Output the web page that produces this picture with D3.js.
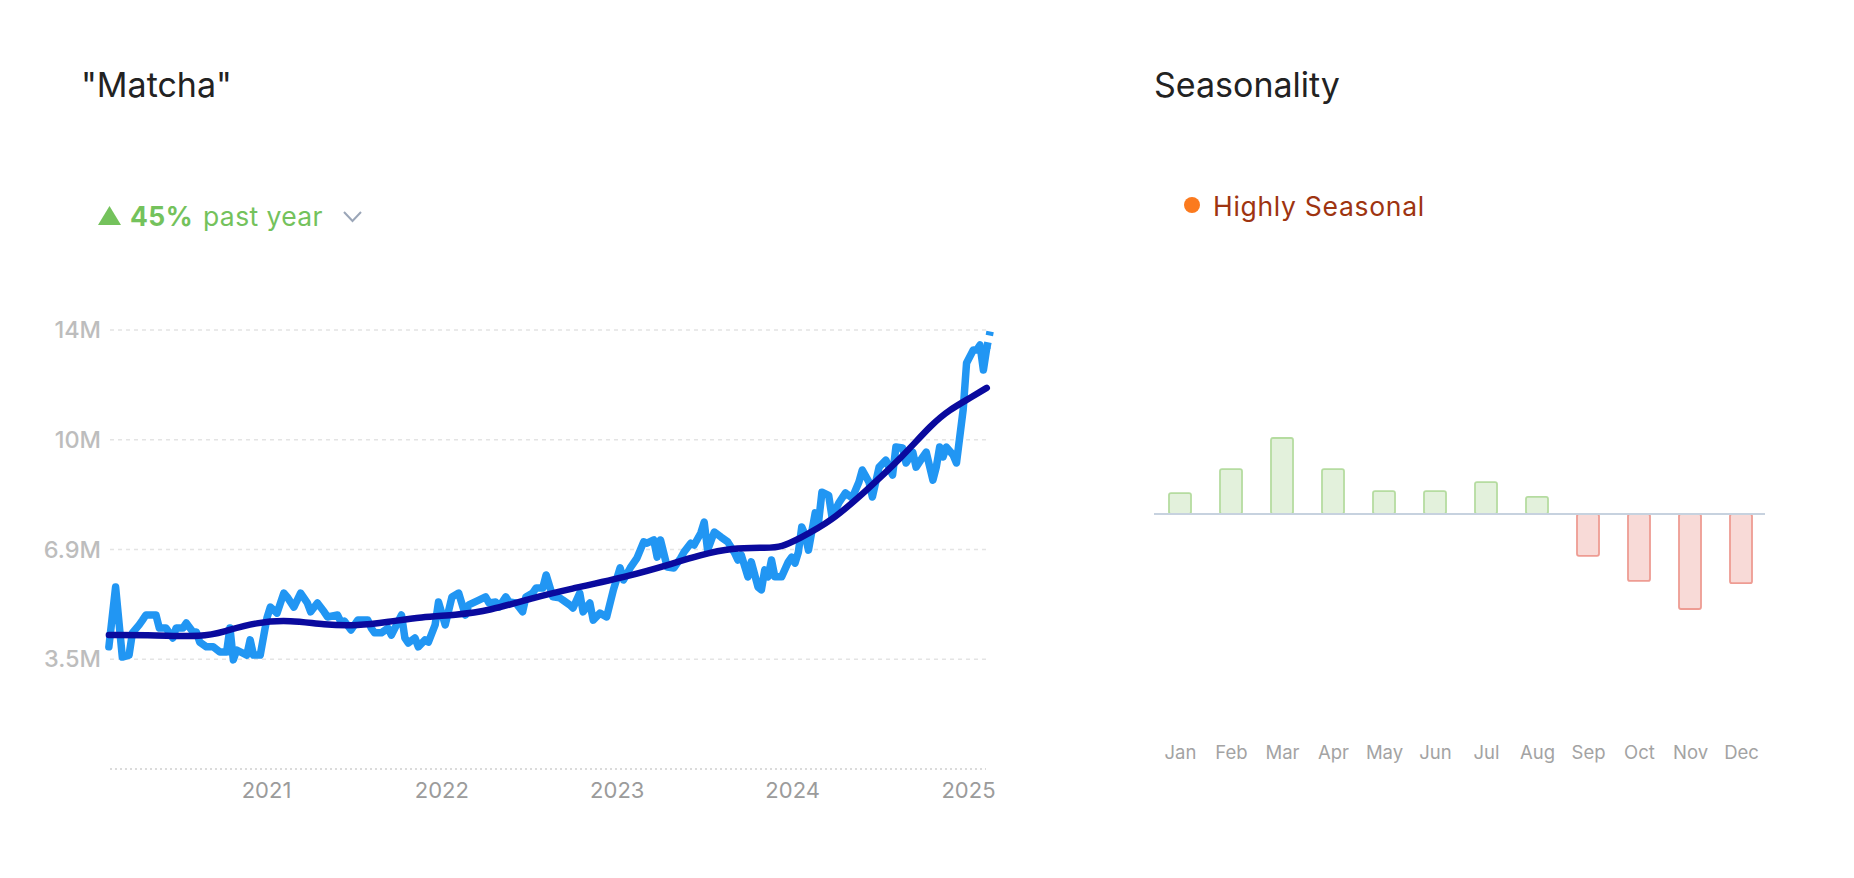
<!DOCTYPE html>
<html>
<head>
<meta charset="utf-8">
<script src="https://cdn.jsdelivr.net/npm/d3@7"></script>
<style>
  html, body { margin: 0; padding: 0; background: #fff; }
  svg { display: block; font-family: Inter, "Noto Sans", sans-serif; }
</style>
</head>
<body>
<svg id="chart" width="1854" height="878"></svg>
<script>
// ---------- Data ----------
const seriesStart = "2020-02-09";           // first weekly observation
// weekly search volume (millions), week index from seriesStart
const weekIdx = [0,2,4,6,7,9,10,11,14,15,17,19,20,22,23,25,26,27,29,31,33,35,36,37,38,41,42,43,45,47,48,50,52,53,55,57,59,60,62,64,65,68,69,70,72,74,77,78,79,81,83,84,87,88,89,91,92,94,95,97,98,100,102,104,106,107,110,112,113,115,116,118,119,121,123,124,126,127,129,130,132,134,135,137,138,140,141,143,144,146,148,150,152,153,155,157,159,160,162,163,164,166,168,170,171,173,174,176,177,178,180,182,184,186,187,188,190,191,193,194,195,196,197,198,200,202,203,204,205,206,207,208,210,211,212,214,215,217,219,221,223,224,226,227,229,231,233,234,236,237,239,240,242,243,245,246,247,248,249,251,252,254,255,257,258,259,260,261];
const volume = [3.84,5.72,3.52,3.58,4.28,4.53,4.68,4.84,4.84,4.43,4.43,4.12,4.43,4.43,4.59,4.31,4.31,3.99,3.84,3.84,3.68,3.68,4.43,3.43,3.74,3.58,4.06,3.58,3.58,4.75,5.09,4.90,5.53,5.41,5.09,5.53,5.22,4.94,5.22,4.94,4.78,4.84,4.62,4.65,4.37,4.68,4.68,4.43,4.28,4.28,4.43,4.21,4.84,4.12,3.96,4.12,3.84,4.06,3.99,4.53,5.25,4.53,5.41,5.53,4.84,5.16,5.31,5.41,5.22,5.25,5.09,5.41,5.25,5.22,4.94,5.41,5.53,5.69,5.69,6.10,5.41,5.38,5.31,5.16,5.06,5.53,4.94,5.22,4.68,4.90,4.78,5.63,6.32,5.94,6.32,6.63,7.14,7.10,7.20,6.66,7.20,6.35,6.32,6.63,6.82,7.10,7.04,7.42,7.76,6.88,7.45,7.29,7.14,6.80,6.57,6.73,6.04,6.51,5.72,5.63,6.26,6.04,6.57,6.04,6.04,6.51,6.66,6.47,6.82,7.61,7.36,6.88,8.05,7.76,8.70,8.60,7.92,8.36,8.68,8.52,9.02,9.40,9.02,8.55,9.49,9.71,9.24,10.12,10.09,9.62,9.96,9.49,9.81,9.96,9.08,9.49,10.12,9.81,10.12,9.87,9.62,11.30,12.76,13.17,13.17,13.33,12.54,13.23];
// projected (incomplete) last point
const projWeek = [261, 262];
const projVolume = [13.23, 13.75];
// smoothed trend (millions)
const trendWeek = [0,14,28,34,44,54,64,74,83,93,103,113,127,136,156,166,176,185,196,200,205,215,225,235,245,250,255,261];
const trendVolume = [4.21,4.21,4.15,4.31,4.62,4.68,4.53,4.50,4.62,4.78,4.84,4.97,5.41,5.63,6.10,6.41,6.73,6.95,6.95,6.98,7.23,7.80,8.74,9.71,10.88,11.29,11.60,11.98];
const yTickValues = [3.45, 6.9, 10.35, 13.8];
const yTickLabels = ["3.5M", "6.9M", "10M", "14M"];
const xTickYears = [2021, 2022, 2023, 2024, 2025];

const months = ["Jan","Feb","Mar","Apr","May","Jun","Jul","Aug","Sep","Oct","Nov","Dec"];
const seasonality = [5.5, 11.8, 20.0, 11.8, 6.0, 6.0, 8.4, 4.5, -11.0, -17.6, -25.0, -18.2]; // % vs average

// ---------- Setup ----------
const svg = d3.select("#chart");
const parse = d3.timeParse("%Y-%m-%d");
const t0 = parse(seriesStart);
const wDate = w => d3.timeDay.offset(t0, w * 7);

// Left chart scales
const x = d3.scaleTime()
  .domain([new Date(2021, 0, 1), new Date(2025, 0, 1)])
  .range([266, 968]);
const y = d3.scaleLinear().domain([0, 13.8]).range([769, 330]);

// Titles
svg.append("text").attr("x", 81).attr("y", 97)
  .attr("font-size", 34).attr("fill", "#222").text('"Matcha"');
svg.append("text").attr("x", 1154).attr("y", 97)
  .attr("font-size", 34).attr("fill", "#222").text("Seasonality");

// Growth badge
const badge = svg.append("g");
badge.append("path").attr("d", "M98,225 L121,225 L109.5,206 Z").attr("fill", "#74c25c");
const bt = badge.append("text").attr("x", 130).attr("y", 226).attr("font-size", 26.5)
  .attr("letter-spacing", 0.4).attr("fill", "#74c25c");
bt.append("tspan").attr("font-weight", 700).text("45%");
bt.append("tspan").attr("dx", 10).text("past year");
badge.append("path").attr("d", "M344,212 L352.5,221 L361,212")
  .attr("fill", "none").attr("stroke", "#9ba6b8").attr("stroke-width", 2);

// Seasonal label
svg.append("circle").attr("cx", 1192).attr("cy", 205).attr("r", 8).attr("fill", "#fb7a1e");
svg.append("text").attr("x", 1213).attr("y", 216).attr("font-size", 26.5)
  .attr("letter-spacing", 0.7).attr("fill", "#9e3410").text("Highly Seasonal");

// Gridlines + y labels
const yAxis = d3.axisLeft(y).tickValues(yTickValues)
  .tickFormat((d, i) => yTickLabels[i]).tickSize(0).tickPadding(0);
const ya = svg.append("g").attr("transform", "translate(101,0)").call(yAxis);
ya.select(".domain").remove();
ya.selectAll("text").attr("font-size", 23.5).attr("fill", "#bdbdbd")
  .attr("font-family", "Inter, sans-serif").attr("font-weight", 500);

svg.append("g").selectAll("line").data(yTickValues).join("line")
  .attr("x1", 110).attr("x2", 986)
  .attr("y1", d => y(d)).attr("y2", d => y(d))
  .attr("stroke", "#e4e4e4").attr("stroke-width", 1.5).attr("stroke-dasharray", "4,4");
svg.append("line").attr("x1", 110).attr("x2", 986).attr("y1", y(0)).attr("y2", y(0))
  .attr("stroke", "#cfcfcf").attr("stroke-width", 1.5).attr("stroke-dasharray", "2,3");

// x axis
const xAxis = d3.axisBottom(x)
  .tickValues(xTickYears.map(yr => new Date(yr, 0, 1)))
  .tickFormat(d3.timeFormat("%Y")).tickSize(0).tickPadding(0);
const xa = svg.append("g").attr("transform", "translate(0,782)").call(xAxis);
xa.select(".domain").remove();
xa.selectAll("text").attr("font-size", 22).attr("fill", "#9b9b9b")
  .attr("font-family", "Inter, sans-serif");

// Lines
const pts = weekIdx.map((w, i) => ({ d: wDate(w), v: volume[i] }));
const proj = projWeek.map((w, i) => ({ d: wDate(w), v: projVolume[i] }));
const trend = trendWeek.map((w, i) => ({ d: wDate(w), v: trendVolume[i] }));

const line = d3.line().x(p => x(p.d)).y(p => y(p.v));
svg.append("path").datum(pts).attr("d", line)
  .attr("fill", "none").attr("stroke", "#2196f3").attr("stroke-width", 7.5)
  .attr("stroke-linejoin", "round").attr("stroke-linecap", "round");
svg.append("path").datum(proj).attr("d", line)
  .attr("fill", "none").attr("stroke", "#2196f3").attr("stroke-width", 7.5)
  .attr("stroke-dasharray", "6,7");
svg.append("path").datum(trend).attr("d", d3.line().curve(d3.curveBasis).x(p => x(p.d)).y(p => y(p.v)))
  .attr("fill", "none").attr("stroke", "#0a0a9e").attr("stroke-width", 6.5)
  .attr("stroke-linejoin", "round").attr("stroke-linecap", "round");

// ---------- Seasonality ----------
const sx = d3.scalePoint().domain(months).range([1154.5, 1766.5]).padding(0.5);
const sy = d3.scaleLinear().domain([-30, 30]).range([514 + 114, 514 - 114]);
const barW = 22;

svg.append("g").selectAll("rect").data(months).join("rect")
  .attr("x", m => sx(m) - barW / 2)
  .attr("y", (m, i) => Math.min(sy(seasonality[i]), sy(0)))
  .attr("width", barW)
  .attr("height", (m, i) => Math.abs(sy(seasonality[i]) - sy(0)))
  .attr("rx", 2)
  .attr("fill", (m, i) => seasonality[i] >= 0 ? "#e3f1dc" : "#f8dad7")
  .attr("stroke", (m, i) => seasonality[i] >= 0 ? "#b5dca0" : "#ee9c93")
  .attr("stroke-width", 1.8);

svg.append("line").attr("x1", 1154).attr("x2", 1765).attr("y1", sy(0)).attr("y2", sy(0))
  .attr("stroke", "#c7d2df").attr("stroke-width", 2);

const sAxis = d3.axisBottom(sx).tickSize(0).tickPadding(0);
const sa = svg.append("g").attr("transform", "translate(0,746)").call(sAxis);
sa.select(".domain").remove();
sa.selectAll("text").attr("font-size", 18.5).attr("fill", "#a3a3a3")
  .attr("font-family", "Inter, sans-serif");
</script>
</body>
</html>
